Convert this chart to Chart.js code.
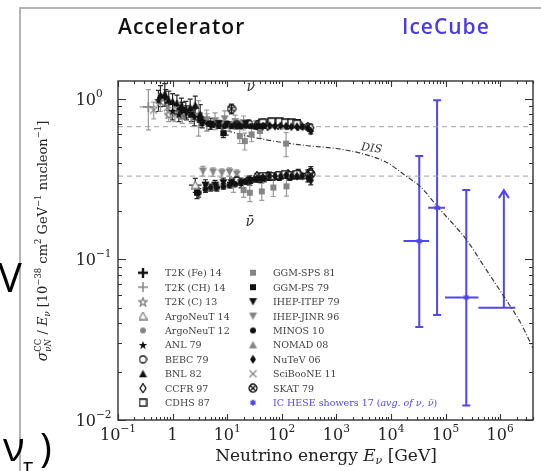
<!DOCTYPE html>
<html>
<head>
<meta charset="utf-8">
<script src="https://cdn.jsdelivr.net/npm/chart.js@4.4.0/dist/chart.umd.min.js"></script>
<style>
html, body { margin: 0; padding: 0; background: #fff; }
#wrap { position: relative; width: 541px; height: 471px; }
</style>
</head>
<body>
<div id="wrap"><canvas id="myChart" width="541" height="471"></canvas></div>
<script>
// ---------- axis ticks ----------
const xTicks = [0.1, 1, 10, 100, 1e3, 1e4, 1e5, 1e6];
const xTickLabels = [['10', '\u22121'], ['1', ''], ['10', '1'], ['10', '2'], ['10', '3'], ['10', '4'], ['10', '5'], ['10', '6']];
const yTicks = [0.01, 0.1, 1];
const yTickLabels = [['10', '\u22122'], ['10', '\u22121'], ['10', '0']];

// ---------- accelerator data (E in GeV, sigma/E in 1e-38 cm2/GeV) ----------
const t2kFeE = [1.5], t2kFeV = [0.86], t2kFeErr = [0.1];
const t2kChE = [0.36], t2kChV = [0.89], t2kChErr = [0.28], t2kChXLo = [0.25], t2kChXHi = [0.5];
const t2kCE = [0.85], t2kCV = [0.8], t2kCErr = [0.1];
const argo14E = [9.6, 2.6], argo14V = [0.66, 0.29], argo14Err = [0.1, 0.1], argo14XLo = [9.6, 2.0], argo14XHi = [9.6, 3.4];
const argo12E = [4.3], argo12V = [0.72], argo12Err = [0.12];
const anlE = [0.55, 0.75, 1.0, 1.3, 1.8, 2.5], anlV = [0.98, 1.02, 0.84, 0.80, 0.82, 0.77], anlErr = [0.15, 0.12, 0.12, 0.1, 0.1, 0.12];
const bebcE = [15, 25, 40, 60, 90, 140, 200, 15, 25, 40, 60, 90, 140, 200];
const bebcV = [0.69, 0.70, 0.70, 0.71, 0.70, 0.69, 0.70, 0.31, 0.31, 0.32, 0.33, 0.33, 0.33, 0.34];
const bebcErr = [0.05, 0.05, 0.05, 0.05, 0.05, 0.05, 0.06, 0.06, 0.06, 0.06, 0.06, 0.06, 0.06, 0.07];
const bnlE = [0.6, 0.72, 0.85, 1.0, 1.2, 1.45, 1.75, 2.1, 2.6, 3.2];
const bnlV = [1.05, 1.07, 0.98, 0.96, 0.94, 0.90, 0.86, 0.88, 0.91, 0.80];
const bnlErr = [0.15, 0.16, 0.14, 0.12, 0.12, 0.12, 0.12, 0.13, 0.14, 0.15];
const ccfrE = [35, 55, 85, 130, 200, 300, 340, 35, 55, 85, 130, 200, 300, 340];
const ccfrV = [0.69, 0.68, 0.69, 0.69, 0.68, 0.67, 0.66, 0.33, 0.33, 0.33, 0.34, 0.34, 0.34, 0.35];
const ccfrErr = [0.03, 0.03, 0.03, 0.03, 0.03, 0.04, 0.05, 0.04, 0.04, 0.04, 0.04, 0.05, 0.06, 0.08];
const cdhsE = [45, 65, 90, 115, 150, 190, 45, 65, 90, 115, 150, 190];
const cdhsV = [0.71, 0.72, 0.72, 0.71, 0.71, 0.70, 0.33, 0.33, 0.335, 0.34, 0.335, 0.34];
const cdhsErr = [0.03, 0.03, 0.03, 0.03, 0.03, 0.03, 0.04, 0.04, 0.04, 0.04, 0.04, 0.04];
const ggmSpsE = [17, 21, 28, 40, 120, 13, 20, 26, 43, 70, 122];
const ggmSpsV = [0.585, 0.545, 0.60, 0.63, 0.526, 0.29, 0.27, 0.26, 0.265, 0.28, 0.285];
const ggmSpsErr = [0.1, 0.12, 0.1, 0.1, 0.17, 0.1, 0.1, 0.12, 0.12, 0.12, 0.13];
const ggmPsE = [1.5, 2.2, 3.2, 5, 8.5, 2.8], ggmPsV = [0.85, 0.80, 0.74, 0.70, 0.61, 0.26], ggmPsErr = [0.12, 0.1, 0.1, 0.08, 0.06, 0.08];
const itepE = [3.5, 5, 7, 10, 15, 22, 4, 6, 8.5, 12, 18, 26];
const itepV = [0.70, 0.68, 0.70, 0.69, 0.68, 0.70, 0.29, 0.29, 0.30, 0.30, 0.30, 0.31];
const itepErr = [0.06, 0.05, 0.05, 0.05, 0.05, 0.05, 0.08, 0.07, 0.07, 0.07, 0.07, 0.07];
const jinrE = [3, 4.2, 6, 9, 14, 20, 3.6, 5.5, 8, 11, 15];
const jinrV = [0.78, 0.74, 0.73, 0.75, 0.72, 0.71, 0.355, 0.35, 0.345, 0.35, 0.34];
const jinrErr = [0.25, 0.15, 0.12, 0.12, 0.1, 0.1, 0.07, 0.06, 0.06, 0.06, 0.06];
const minosE = [3.5, 4.5, 5.5, 7, 9, 12, 15, 18, 22, 27, 33, 40, 48, 3, 4, 5, 6.5, 8.5, 11, 14, 18, 22, 27, 33, 40, 48];
const minosV = [0.72, 0.70, 0.69, 0.68, 0.675, 0.675, 0.68, 0.675, 0.68, 0.675, 0.67, 0.675, 0.68,
                0.26, 0.275, 0.28, 0.28, 0.285, 0.29, 0.295, 0.30, 0.305, 0.31, 0.315, 0.32, 0.32];
const minosErr = [0.05, 0.04, 0.04, 0.04, 0.03, 0.03, 0.03, 0.03, 0.03, 0.03, 0.03, 0.04, 0.04,
                  0.06, 0.05, 0.05, 0.05, 0.04, 0.04, 0.04, 0.04, 0.04, 0.04, 0.04, 0.05, 0.05];
const nomadE = [3, 4, 6, 8, 12, 17, 24, 33, 45, 60, 80, 105];
const nomadV = [0.76, 0.73, 0.71, 0.70, 0.69, 0.70, 0.70, 0.70, 0.70, 0.69, 0.70, 0.69];
const nomadErr = [0.06, 0.05, 0.04, 0.04, 0.04, 0.04, 0.04, 0.04, 0.04, 0.05, 0.05, 0.06];
const nutevE = [35, 45, 60, 75, 95, 120, 150, 190, 240, 300, 340, 35, 45, 60, 75, 95, 120, 150, 190, 240, 300, 340];
const nutevV = [0.68, 0.675, 0.68, 0.675, 0.68, 0.675, 0.67, 0.67, 0.67, 0.66, 0.63,
                0.32, 0.325, 0.33, 0.33, 0.33, 0.335, 0.33, 0.33, 0.33, 0.32, 0.31];
const nutevErr = [0.02, 0.02, 0.02, 0.02, 0.02, 0.02, 0.02, 0.02, 0.03, 0.03, 0.04,
                  0.03, 0.03, 0.03, 0.03, 0.03, 0.03, 0.03, 0.03, 0.04, 0.05, 0.06];
const sciboneE = [0.45, 0.6, 0.8, 1.1, 1.5, 2.2], sciboneV = [0.85, 0.95, 0.88, 0.80, 0.78, 0.80], sciboneErr = [0.12, 0.12, 0.1, 0.1, 0.1, 0.12];
const skatE = [12, 340], skatV = [0.866, 0.34], skatErr = [0.07, 0.08];

// ---------- IceCube HESE showers ----------
const icE = [3.3e4, 7.0e4, 2.4e5], icV = [0.13, 0.21, 0.058];
const icLo = [0.038, 0.045, 0.0123], icHi = [0.44, 0.98, 0.27];
const icXLo = [1.7e4, 4.8e4, 9.8e4], icXHi = [5.0e4, 9.8e4, 4.0e5];
const icLimE = [1.17e6], icLimV = [0.050], icLimTop = [0.27], icLimXLo = [4.0e5], icLimXHi = [1.9e6];

// ---------- DIS prediction and reference lines ----------
const disE = [10, 30, 100, 300, 1000, 3000, 8500, 1.9e4, 3.4e4, 7.4e4, 1.4e5, 2.4e5, 5.6e5, 1.2e6, 2.3e6, 4.0e6];
const disV = [0.63, 0.575, 0.535, 0.51, 0.49, 0.455, 0.40, 0.33, 0.285, 0.21, 0.165, 0.133, 0.086, 0.058, 0.041, 0.028];
const refE = [0.1, 4.0e6];
const nuRefV = 0.67, nubarRefV = 0.33;

// ---------- text annotations (data coords) ----------
const noteText = ['\u03bd', '\u03bd\u0304'];
const noteE = [27, 26];
const noteV = [1.18, 0.17];

const BLACK = '#111', GRAY = '#858585', BLUE = '#5246f0';
const SERIF = '"DejaVu Serif", serif';

function makeMarker(kind, color, filled, size) {
  const s = size || 8;
  const c = document.createElement('canvas');
  c.width = c.height = s;
  const g = c.getContext('2d');
  const m = s / 2, r = s / 2 - 1;
  g.strokeStyle = color; g.fillStyle = color; g.lineWidth = 1.3;
  g.beginPath();
  if (kind === 'plus') {
    g.lineWidth = filled ? 2.4 : 1.5;
    g.moveTo(m, 0); g.lineTo(m, s); g.moveTo(0, m); g.lineTo(s, m); g.stroke();
    return c;
  }
  if (kind === 'x') {
    g.moveTo(1, 1); g.lineTo(s - 1, s - 1); g.moveTo(s - 1, 1); g.lineTo(1, s - 1); g.stroke();
    return c;
  }
  if (kind === 'asterisk') {
    g.lineWidth = 1.6;
    for (let k = 0; k < 3; k++) {
      const a = k * Math.PI / 3 + Math.PI / 2;
      g.moveTo(m + r * Math.cos(a), m + r * Math.sin(a));
      g.lineTo(m - r * Math.cos(a), m - r * Math.sin(a));
    }
    g.stroke();
    g.beginPath(); g.arc(m, m, 1.8, 0, 2 * Math.PI); g.fill();
    return c;
  }
  if (kind === 'circle') g.arc(m, m, r, 0, 2 * Math.PI);
  if (kind === 'square') g.rect(1, 1, s - 2, s - 2);
  if (kind === 'triUp') { g.moveTo(m, 0.5); g.lineTo(s - 0.5, s - 1); g.lineTo(0.5, s - 1); g.closePath(); }
  if (kind === 'triDown') { g.moveTo(m, s - 0.5); g.lineTo(s - 0.5, 1); g.lineTo(0.5, 1); g.closePath(); }
  if (kind === 'diamond') { g.moveTo(m, 0.5); g.lineTo(m + r * 0.75, m); g.lineTo(m, s - 0.5); g.lineTo(m - r * 0.75, m); g.closePath(); }
  if (kind === 'star') {
    for (let k = 0; k < 10; k++) {
      const a = -Math.PI / 2 + k * Math.PI / 5, rr = k % 2 ? r * 0.45 : r + 0.5;
      const px = m + rr * Math.cos(a), py = m + 0.5 + rr * Math.sin(a);
      k ? g.lineTo(px, py) : g.moveTo(px, py);
    }
    g.closePath();
  }
  if (kind === 'otimes') {
    g.arc(m, m, r, 0, 2 * Math.PI);
    const d = r * 0.7;
    g.moveTo(m - d, m - d); g.lineTo(m + d, m + d); g.moveTo(m + d, m - d); g.lineTo(m - d, m + d);
    g.stroke();
    return c;
  }
  if (filled) { g.fill(); } else { g.fillStyle = '#fff'; g.fill(); g.stroke(); }
  return c;
}

const MK = {
  t2kFe: makeMarker('plus', BLACK, true, 10),
  t2kCh: makeMarker('plus', GRAY, false, 10),
  t2kC: makeMarker('star', GRAY, false, 10),
  argo14: makeMarker('triUp', GRAY, false, 9),
  argo12: makeMarker('circle', GRAY, true, 8),
  anl: makeMarker('star', BLACK, true, 10),
  bebc: makeMarker('circle', BLACK, false, 9),
  bnl: makeMarker('triUp', BLACK, true, 9),
  ccfr: makeMarker('diamond', BLACK, false, 10),
  cdhs: makeMarker('square', BLACK, false, 9),
  ggmSps: makeMarker('square', GRAY, true, 8),
  ggmPs: makeMarker('square', BLACK, true, 8),
  itep: makeMarker('triDown', BLACK, true, 9),
  jinr: makeMarker('triDown', GRAY, true, 9),
  minos: makeMarker('circle', BLACK, true, 8),
  nomad: makeMarker('triUp', GRAY, true, 9),
  nutev: makeMarker('diamond', BLACK, true, 10),
  scibone: makeMarker('x', GRAY, false, 9),
  skat: makeMarker('otimes', BLACK, false, 10),
  ic: makeMarker('asterisk', BLUE, true, 8)
};

function series(label, E, V, err, marker, color, xLo, xHi) {
  return {
    label: label,
    data: E.map((e, i) => ({ x: e, y: V[i] })),
    errLo: V.map((v, i) => v * (1 - err[i])),
    errHi: V.map((v, i) => v * (1 + err[i])),
    xLo: xLo, xHi: xHi,
    errColor: color === BLACK ? '#2a2a2a' : '#9a9a9a',
    errWidth: 1.2,
    cap: 2.5,
    pointStyle: marker,
    pointRadius: 4,
    showLine: false
  };
}

const accel = [
  series('NuTeV 06', nutevE, nutevV, nutevErr, MK.nutev, BLACK),
  series('MINOS 10', minosE, minosV, minosErr, MK.minos, BLACK),
  series('IHEP-ITEP 79', itepE, itepV, itepErr, MK.itep, BLACK),
  series('GGM-PS 79', ggmPsE, ggmPsV, ggmPsErr, MK.ggmPs, BLACK),
  series('BNL 82', bnlE, bnlV, bnlErr, MK.bnl, BLACK),
  series('ANL 79', anlE, anlV, anlErr, MK.anl, BLACK),
  series('T2K (Fe) 14', t2kFeE, t2kFeV, t2kFeErr, MK.t2kFe, BLACK),
  series('SKAT 79', skatE, skatV, skatErr, MK.skat, BLACK),
  series('CDHS 87', cdhsE, cdhsV, cdhsErr, MK.cdhs, BLACK),
  series('CCFR 97', ccfrE, ccfrV, ccfrErr, MK.ccfr, BLACK),
  series('BEBC 79', bebcE, bebcV, bebcErr, MK.bebc, BLACK),
  series('ArgoNeuT 14', argo14E, argo14V, argo14Err, MK.argo14, BLACK, argo14XLo, argo14XHi),
  series('NOMAD 08', nomadE, nomadV, nomadErr, MK.nomad, GRAY),
  series('IHEP-JINR 96', jinrE, jinrV, jinrErr, MK.jinr, GRAY),
  series('GGM-SPS 81', ggmSpsE, ggmSpsV, ggmSpsErr, MK.ggmSps, GRAY),
  series('SciBooNE 11', sciboneE, sciboneV, sciboneErr, MK.scibone, GRAY),
  series('ArgoNeuT 12', argo12E, argo12V, argo12Err, MK.argo12, GRAY),
  series('T2K (C) 13', t2kCE, t2kCV, t2kCErr, MK.t2kC, GRAY),
  series('T2K (CH) 14', t2kChE, t2kChV, t2kChErr, MK.t2kCh, GRAY, t2kChXLo, t2kChXHi)
];

const icecube = {
  label: 'IC HESE showers 17',
  data: icE.map((e, i) => ({ x: e, y: icV[i] })),
  errLo: icLo, errHi: icHi, xLo: icXLo, xHi: icXHi,
  errColor: BLUE, errWidth: 2, cap: 4,
  pointStyle: MK.ic, pointRadius: 4, showLine: false
};
const icLimit = {
  label: 'IC limit',
  data: icLimE.map((e, i) => ({ x: e, y: icLimV[i] })),
  errLo: icLimV, errHi: icLimTop, xLo: icLimXLo, xHi: icLimXHi, arrow: true,
  errColor: BLUE, errWidth: 2, cap: 0,
  pointRadius: 0, showLine: false
};

const refLine = (v) => ({
  label: 'ref', data: refE.map(e => ({ x: e, y: v })), showLine: true,
  borderColor: '#a0a0a0', borderWidth: 1, borderDash: [5, 4], pointRadius: 0
});
const disLine = {
  label: 'DIS', data: disE.map((e, i) => ({ x: e, y: disV[i] })), showLine: true,
  borderColor: '#3a3a3a', borderWidth: 1.2, borderDash: [5, 2, 1, 2], pointRadius: 0,
  cubicInterpolationMode: 'monotone'
};

// error bars under the points, through the chart scales
const errorBars = {
  id: 'errorBars',
  beforeDatasetsDraw(chart) {
    const { ctx, scales: { x, y }, chartArea: a } = chart;
    ctx.save();
    ctx.beginPath(); ctx.rect(a.left, a.top, a.right - a.left, a.bottom - a.top); ctx.clip();
    chart.data.datasets.forEach(ds => {
      if (!ds.errLo) return;
      ctx.strokeStyle = ds.errColor; ctx.lineWidth = ds.errWidth;
      ds.data.forEach((p, i) => {
        const px = x.getPixelForValue(p.x);
        const y1 = y.getPixelForValue(ds.errLo[i]), y2 = y.getPixelForValue(ds.errHi[i]);
        ctx.beginPath();
        ctx.moveTo(px, y1); ctx.lineTo(px, y2);
        if (ds.cap) {
          ctx.moveTo(px - ds.cap, y1); ctx.lineTo(px + ds.cap, y1);
          ctx.moveTo(px - ds.cap, y2); ctx.lineTo(px + ds.cap, y2);
        }
        if (ds.xLo) {
          const py = y.getPixelForValue(p.y);
          ctx.moveTo(x.getPixelForValue(ds.xLo[i]), py); ctx.lineTo(x.getPixelForValue(ds.xHi[i]), py);
        }
        if (ds.arrow) {
          ctx.moveTo(px - 5, y2 + 8); ctx.lineTo(px, y2); ctx.lineTo(px + 5, y2 + 8);
        }
        ctx.stroke();
      });
    });
    ctx.restore();
  }
};

function richWidth(ctx, segs) {
  let w = 0;
  segs.forEach(s => {
    ctx.font = s.f; let sw = ctx.measureText(s.t).width;
    if (s.b) { ctx.font = s.bf; sw = Math.max(sw, ctx.measureText(s.b).width); }
    w += sw;
  });
  return w;
}
function drawRich(ctx, segs, x, y) {
  segs.forEach(s => {
    ctx.font = s.f; let sw = ctx.measureText(s.t).width;
    ctx.fillText(s.t, x, y + (s.dy || 0));
    if (s.b) { ctx.font = s.bf; ctx.fillText(s.b, x, y + s.bdy); sw = Math.max(sw, ctx.measureText(s.b).width); }
    x += sw;
  });
  return x;
}

const legendLeft = ['T2K (Fe) 14', 'T2K (CH) 14', 'T2K (C) 13', 'ArgoNeuT 14', 'ArgoNeuT 12', 'ANL 79', 'BEBC 79', 'BNL 82', 'CCFR 97', 'CDHS 87'];
const legendLeftMk = ['t2kFe', 't2kCh', 't2kC', 'argo14', 'argo12', 'anl', 'bebc', 'bnl', 'ccfr', 'cdhs'];
const legendRight = ['GGM-SPS 81', 'GGM-PS 79', 'IHEP-ITEP 79', 'IHEP-JINR 96', 'MINOS 10', 'NOMAD 08', 'NuTeV 06', 'SciBooNE 11', 'SKAT 79'];
const legendRightMk = ['ggmSps', 'ggmPs', 'itep', 'jinr', 'minos', 'nomad', 'nutev', 'scibone', 'skat'];

const decor = {
  id: 'decor',
  beforeDraw(chart) {
    const ctx = chart.ctx;
    ctx.save(); ctx.fillStyle = '#fff'; ctx.fillRect(0, 0, chart.width, chart.height); ctx.restore();
  },
  afterDraw(chart) {
    const { ctx, chartArea: a, scales: { x, y } } = chart;
    ctx.save();
    // frame and inward ticks
    ctx.strokeStyle = '#333'; ctx.lineWidth = 1.4;
    ctx.strokeRect(a.left, a.top, a.right - a.left, a.bottom - a.top);
    ctx.lineWidth = 1.1;
    ctx.beginPath();
    xTicks.forEach(t => {
      for (let m = 1; m <= 9; m++) {
        const v = t * m;
        if (v < x.min || v > x.max) continue;
        const px = Math.round(x.getPixelForValue(v)) + 0.5, len = m === 1 ? 6 : 3;
        ctx.moveTo(px, a.bottom); ctx.lineTo(px, a.bottom - len);
        ctx.moveTo(px, a.top); ctx.lineTo(px, a.top + len);
      }
    });
    yTicks.forEach(t => {
      for (let m = 1; m <= 9; m++) {
        const v = t * m;
        if (v < y.min || v > y.max) continue;
        const py = Math.round(y.getPixelForValue(v)) + 0.5, len = m === 1 ? 8 : 4;
        ctx.moveTo(a.left, py); ctx.lineTo(a.left + len, py);
        ctx.moveTo(a.right, py); ctx.lineTo(a.right - len, py);
      }
    });
    ctx.stroke();

    // tick labels
    ctx.fillStyle = '#222'; ctx.textBaseline = 'alphabetic'; ctx.textAlign = 'left';
    xTicks.forEach((t, i) => {
      const segs = [{ t: xTickLabels[i][0], f: '16px ' + SERIF }, { t: xTickLabels[i][1], f: '10.5px ' + SERIF, dy: -8 }];
      const w = richWidth(ctx, segs);
      drawRich(ctx, segs, x.getPixelForValue(t) - w / 2, 440);
    });
    yTicks.forEach((t, i) => {
      ctx.font = '16px ' + SERIF;
      const bw = ctx.measureText(yTickLabels[i][0]).width;
      drawRich(ctx, [{ t: yTickLabels[i][0], f: '16px ' + SERIF }, { t: yTickLabels[i][1], f: '10.5px ' + SERIF, dy: -8 }],
        96 - bw, y.getPixelForValue(t) + 6);
    });

    // axis titles
    const xt = [{ t: 'Neutrino energy ', f: '17px ' + SERIF }, { t: 'E', f: 'italic 17px ' + SERIF },
      { t: '\u03bd', f: 'italic 11px ' + SERIF, dy: 3 }, { t: ' [GeV]', f: '17px ' + SERIF }];
    drawRich(ctx, xt, 326 - richWidth(ctx, xt) / 2, 461);
    const yt = [{ t: '\u03c3', f: 'italic 14px ' + SERIF },
      { t: 'CC', f: '8.5px ' + SERIF, dy: -6, b: '\u03bdN', bf: 'italic 8.5px ' + SERIF, bdy: 4 },
      { t: ' / ', f: '13px ' + SERIF }, { t: 'E', f: 'italic 13px ' + SERIF },
      { t: '\u03bd', f: 'italic 8.5px ' + SERIF, dy: 3 }, { t: ' [10', f: '13px ' + SERIF },
      { t: '\u221238', f: '8.5px ' + SERIF, dy: -6 }, { t: ' cm', f: '13px ' + SERIF },
      { t: '2', f: '8.5px ' + SERIF, dy: -6 }, { t: ' GeV', f: '13px ' + SERIF },
      { t: '\u22121', f: '8.5px ' + SERIF, dy: -6 }, { t: ' nucleon', f: '13px ' + SERIF },
      { t: '\u22121', f: '8.5px ' + SERIF, dy: -6 }, { t: ']', f: '13px ' + SERIF }];
    ctx.save();
    ctx.translate(47, 241); ctx.rotate(-Math.PI / 2);
    drawRich(ctx, yt, -richWidth(ctx, yt) / 2, 0);
    ctx.restore();

    // nu / nubar and DIS labels
    ctx.fillStyle = '#333'; ctx.textAlign = 'center'; ctx.textBaseline = 'middle';
    ctx.font = 'italic 14px ' + SERIF;
    noteText.forEach((t, i) => ctx.fillText(t, x.getPixelForValue(noteE[i]), y.getPixelForValue(noteV[i])));
    ctx.save();
    ctx.translate(x.getPixelForValue(4400), y.getPixelForValue(0.49)); ctx.rotate(0.14);
    ctx.font = 'italic 11px ' + SERIF; ctx.fillText('DIS', 0, 0);
    ctx.restore();

    // legend
    ctx.textAlign = 'left'; ctx.textBaseline = 'alphabetic';
    const rowY = i => 272.7 + i * 14.44;
    ctx.fillStyle = '#404040'; ctx.font = '9.5px ' + SERIF;
    legendLeft.forEach((t, i) => {
      const mk = MK[legendLeftMk[i]];
      ctx.drawImage(mk, 143 - mk.width / 2, rowY(i) - mk.height / 2);
      ctx.fillText(t, 165, rowY(i) + 3.5);
    });
    legendRight.forEach((t, i) => {
      const mk = MK[legendRightMk[i]];
      ctx.drawImage(mk, 253 - mk.width / 2, rowY(i) - mk.height / 2);
      ctx.fillText(t, 273, rowY(i) + 3.5);
    });
    ctx.drawImage(MK.ic, 253 - MK.ic.width / 2, rowY(9) - MK.ic.height / 2);
    ctx.fillStyle = BLUE;
    drawRich(ctx, [{ t: 'IC HESE showers 17 (', f: '9.5px ' + SERIF }, { t: 'avg. of \u03bd, \u03bd\u0304', f: 'italic 9.5px ' + SERIF },
      { t: ')', f: '9.5px ' + SERIF }], 273, rowY(9) + 3.5);

    // slide headings
    ctx.font = '600 21px "Open Sans", sans-serif';
    ctx.letterSpacing = '1px';
    ctx.fillStyle = '#111'; ctx.fillText('Accelerator', 118, 34);
    ctx.fillStyle = '#4b3be6'; ctx.fillText('IceCube', 402, 34);
    ctx.letterSpacing = '0px';

    // slide frame and cut-off slide text
    ctx.strokeStyle = '#b4b4b4'; ctx.lineWidth = 2;
    ctx.beginPath(); ctx.moveTo(20, 471); ctx.lineTo(20, 8); ctx.lineTo(541, 8); ctx.stroke();
    ctx.fillStyle = '#000';
    ctx.font = '40px "Open Sans", sans-serif';
    ctx.fillText('V', -2, 292);
    ctx.fillText('\u03bd', 3, 461);
    ctx.font = '22px "Open Sans", sans-serif';
    ctx.fillText('\u03c4', 23, 474);
    ctx.font = '40px "Open Sans", sans-serif';
    ctx.fillText(')', 40, 462);
    ctx.restore();
  }
};

const chartContext = document.getElementById('myChart').getContext('2d');
const myChart = new Chart(chartContext, {
  type: 'scatter',
  data: {
    datasets: [icecube, icLimit].concat(accel, [disLine, refLine(nuRefV), refLine(nubarRefV)])
  },
  options: {
    responsive: false,
    animation: false,
    devicePixelRatio: 1,
    layout: { padding: { left: 118, right: 8, top: 81, bottom: 51 } },
    plugins: { legend: { display: false }, tooltip: { enabled: false } },
    scales: {
      x: { type: 'logarithmic', min: 0.1, max: 4.0e6, display: false },
      y: { type: 'logarithmic', min: 0.01, max: 1.29, display: false }
    }
  },
  plugins: [errorBars, decor]
});
</script>
</body>
</html>
